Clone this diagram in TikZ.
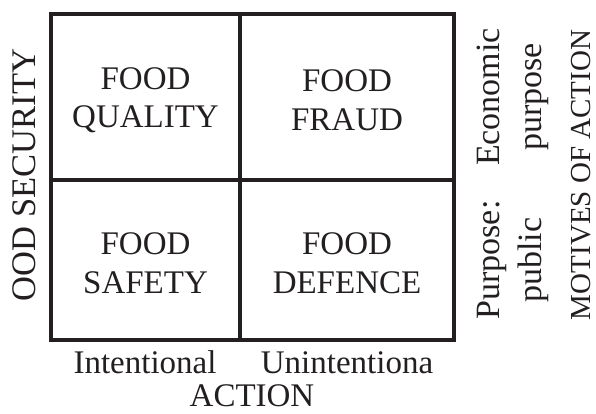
\documentclass[tikz,border=0pt]{standalone}
\usepackage{fontspec}
\setmainfont{Liberation Serif}
\definecolor{ink}{HTML}{231F20}
\begin{document}
\begin{tikzpicture}[x=1pt,y=-1pt,
  cell/.style={draw=ink, line width=4pt, inner sep=0pt},
  celltext/.style={inner sep=0pt, align=center, text=ink,
    font=\fontsize{33}{38.5}\selectfont},
  lbl/.style={inner sep=0pt, text=ink, font=\fontsize{33}{38}\selectfont},
  vlbl/.style={inner sep=0pt, rotate=90, align=center, text=ink}]
\useasboundingbox (0,0) rectangle (596,413);
% the four quadrants
\node[cell, minimum width=189pt, minimum height=166pt] (quality) at (145.5,97) {};
\node[cell, minimum width=214pt, minimum height=166pt] (fraud) at (347,97) {};
\node[cell, minimum width=189pt, minimum height=160pt] (safety) at (145.5,260) {};
\node[cell, minimum width=214pt, minimum height=160pt] (defence) at (347,260) {};
\node[celltext] (qualitytext) at ([yshift=-3pt]quality.center) {FOOD\\QUALITY};
\node[celltext] (fraudtext) at ([yshift=-3pt]fraud.center) {FOOD\\FRAUD};
\node[celltext] (safetytext) at ([yshift=-3pt]safety.center) {FOOD\\SAFETY};
\node[celltext] (defencetext) at ([yshift=-3pt]defence.center) {FOOD\\DEFENCE};
% vertical axis label
\node[vlbl, font=\fontsize{34.5}{40}\selectfont] (security) at (24.5,175) {OOD SECURITY};
% purpose labels and motives axis
\node[vlbl, font=\fontsize{34}{42}\selectfont] (economic) at (513,97) {Economic\\purpose};
\node[vlbl, font=\fontsize{34}{42}\selectfont] (public) at (513,260) {Purpose:\\public};
\node[vlbl, font=\fontsize{29}{34}\selectfont] (motives) at (581,175) {MOTIVES OF ACTION};
% horizontal axis labels
\node[lbl, anchor=base] (intentional) at (145,373) {Intentional};
\node[lbl, anchor=base] (unintentional) at (347,373) {Unintentiona};
\node[lbl, anchor=base] (action) at (252,406.5) {ACTION};
\end{tikzpicture}
\end{document}
